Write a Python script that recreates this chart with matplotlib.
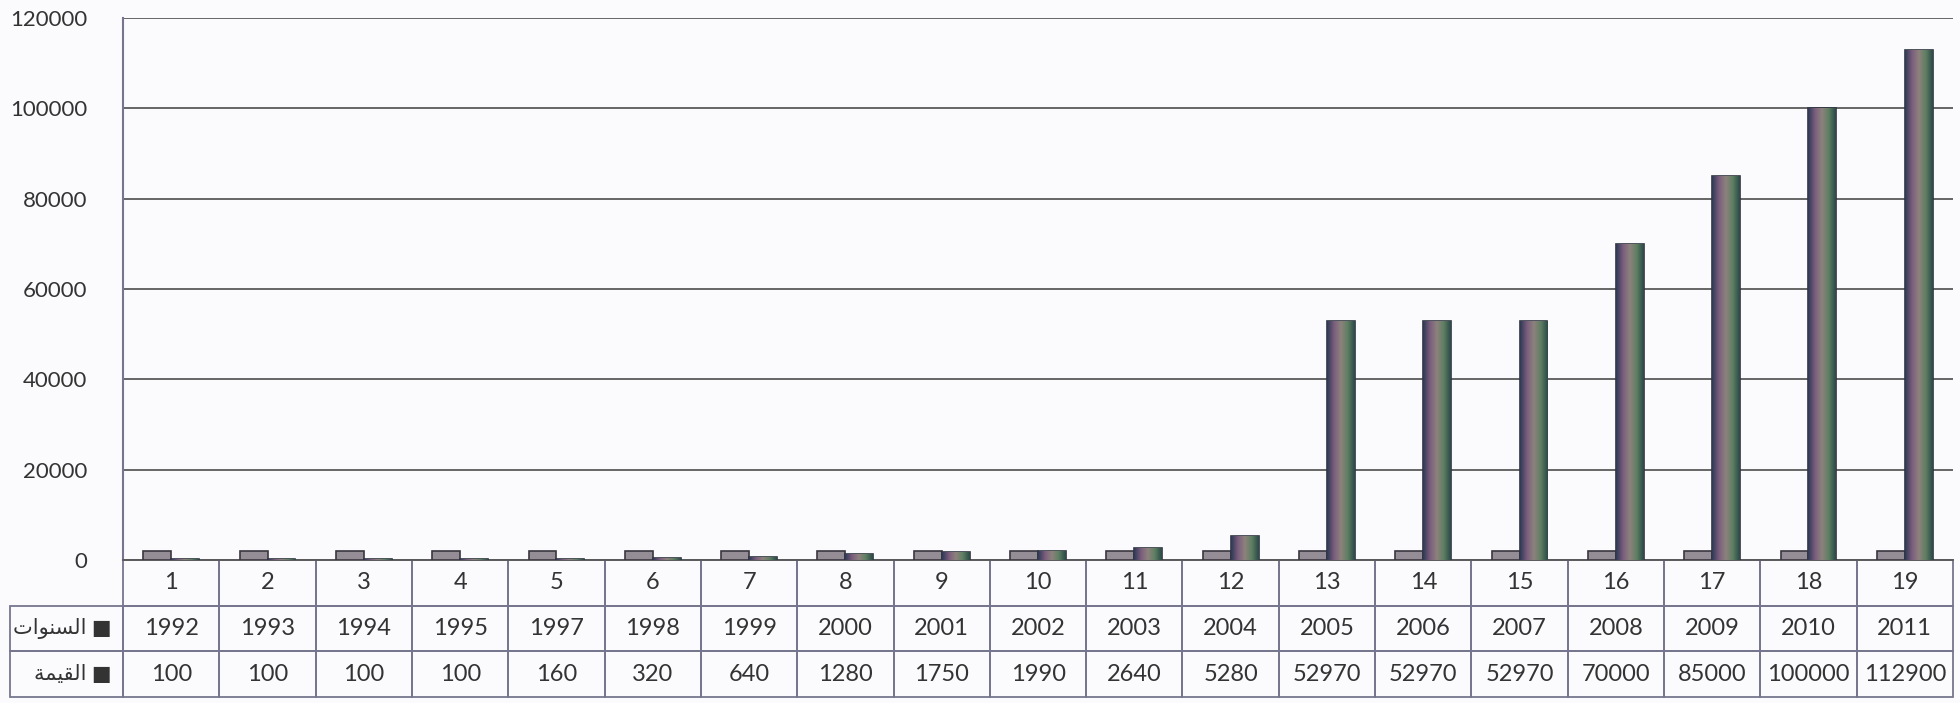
import matplotlib.pyplot as plt
import numpy as np
from matplotlib.colors import LinearSegmentedColormap

# chart data
categories = [str(i) for i in range(1, 20)]
years = [1992, 1993, 1994, 1995, 1997, 1998, 1999, 2000, 2001, 2002,
         2003, 2004, 2005, 2006, 2007, 2008, 2009, 2010, 2011]
values = [100, 100, 100, 100, 160, 320, 640, 1280, 1750, 1990,
          2640, 5280, 52970, 52970, 52970, 70000, 85000, 100000, 112900]
y_ticks = [0, 20000, 40000, 60000, 80000, 100000, 120000]

# Arabic labels pre-shaped (presentation forms, visual order) since
# matplotlib has no bidi / shaping support
label_years = "\ufe95\ufe8d\ufeee\ufee8\ufeb4\ufedf\ufe8d"   # السنوات
label_values = "\ufe94\ufee4\ufef4\ufed8\ufedf\ufe8d"        # القيمة

TEXT = '#333333'
GRID = '#5a5a5a'
LINE = '#75758f'
BAR_W = 0.29

fig = plt.figure(figsize=(19.6, 7.03), dpi=100, facecolor='#fbfbfd')
ax = fig.add_axes([0.0628, 0.2035, 0.9336, 0.771])
ax.set_facecolor('#fbfbfd')

x = np.arange(len(categories))
ax.bar(x - BAR_W / 2, years, width=BAR_W, color='#958d96',
       edgecolor='#3a3640', linewidth=1.2, zorder=3)
bars = ax.bar(x + BAR_W / 2, values, width=BAR_W, color='#6f6a72',
              edgecolor='#2e3440', linewidth=1.2, zorder=3)

# shaded fill for the value bars (imitates the 3D cylinder look)
cmap = LinearSegmentedColormap.from_list(
    'bar', ['#2e3a55', '#7b5e7e', '#8d827d', '#5e7f62', '#2c4a48'])
grad = np.linspace(0, 1, 64).reshape(1, -1)
for b in bars:
    bx, by = b.get_x(), b.get_y()
    im = ax.imshow(grad, cmap=cmap, aspect='auto', zorder=3.5,
                   extent=[bx, bx + b.get_width(), by, by + b.get_height()])
    im.set_clip_path(b)

ax.set_xlim(-0.5, len(categories) - 0.5)
ax.set_ylim(0, 120000)
ax.set_yticks(y_ticks)
ax.set_yticklabels([str(v) for v in y_ticks])
ax.tick_params(axis='y', length=0, pad=26, labelsize=16, labelcolor=TEXT)
ax.tick_params(axis='x', length=0, labelbottom=False)
for lbl in ax.get_yticklabels():
    lbl.set_family('Lato')
ax.yaxis.grid(True, color=GRID, linewidth=1.3, zorder=0)
ax.set_axisbelow(True)

for side in ['top', 'right']:
    ax.spines[side].set_visible(False)
ax.spines['left'].set_color(LINE)
ax.spines['left'].set_linewidth(1.5)
ax.spines['bottom'].set_color(GRID)
ax.spines['bottom'].set_linewidth(1.3)

# data table under the plot; first column holds the series names
row_w = 0.0617
cell_text = [[label_years + ' \u25a0'] + [str(v) for v in years],
             [label_values + ' \u25a0'] + [str(v) for v in values]]
tbl = ax.table(cellText=cell_text,
               colLabels=[''] + categories,
               colWidths=[row_w] + [1.0 / len(categories)] * len(categories),
               cellLoc='center',
               bbox=[-row_w, -0.253, 1 + row_w, 0.253])
tbl.auto_set_font_size(False)
for (r, c), cell in tbl.get_celld().items():
    cell.set_edgecolor(LINE)
    cell.set_linewidth(1.3)
    cell.set_facecolor('none')
    txt = cell.get_text()
    txt.set_color(TEXT)
    if c == 0:
        if r == 0:
            cell.visible_edges = ''
        txt.set_fontsize(15)
        txt.set_family(['Lato', 'DejaVu Sans'])
        txt.set_horizontalalignment('right')
        cell._loc = 'right'
    else:
        txt.set_fontsize(17)
        txt.set_family('Lato')

fig.savefig('out.png', dpi=100, facecolor=fig.get_facecolor())
